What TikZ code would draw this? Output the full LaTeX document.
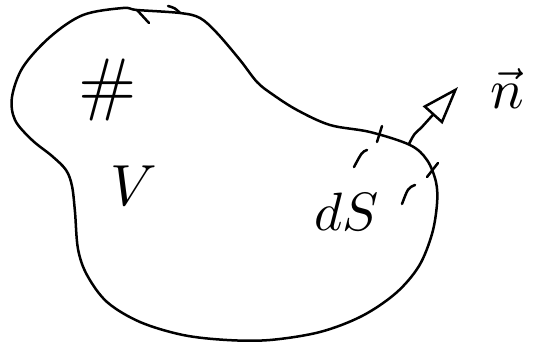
\documentclass[tikz,border=0pt]{standalone}
\usepackage{graphicx}
\usetikzlibrary{arrows.meta}
\begin{document}
\begin{tikzpicture}[x=1pt,y=-1pt,
  ink/.style={line width=2.5pt,line cap=round,line join=round,black},
  lbl/.style={inner sep=0pt,black}]
\useasboundingbox (0,0) rectangle (539,343);
% surface contour
\draw[ink] plot[smooth cycle,tension=0.55] coordinates{
 (137,10) (180,13) (200,18) (217,33) (240,60) (257,82) (272,94) (297,110)
 (330,125) (370,132) (410,145) (427,160) (436,182) (437,204) (432,234)
 (419,266) (396,293) (362,316) (320,332) (270,340) (227,340) (183,335)
 (140,322) (107,302) (87,275) (78,249) (75,212) (72,186) (66,170)
 (52,156) (32,140) (15,120) (12,97) (23,67) (50,37) (83,15) (123,8)};
% orientation mark on top
\coordinate (o1) at (137,10);
\coordinate (o2) at (149,23);
\coordinate (h1) at (168,6);
\coordinate (h2) at (180,13);
\draw[ink] (o1) -- (o2);
\draw[ink] (h1) .. controls (175,8) .. (h2);
% ticks bounding dS
\coordinate (t1a) at (382,126); \coordinate (t1b) at (377,142);
\coordinate (t2a) at (438,163); \coordinate (t2b) at (427,177);
\draw[ink] (t1a) -- (t1b);
\draw[ink] (t2a) -- (t2b);
% dashes inward
\coordinate (d1a) at (367,150); \coordinate (d1b) at (354,167);
\coordinate (d2a) at (415,185); \coordinate (d2b) at (402,204);
\draw[ink] (d1a) .. controls (362,152) .. (d1b);
\draw[ink] (d2a) .. controls (408,188) .. (d2b);
% normal vector
\coordinate (foot) at (409,144);
\coordinate (tip) at (458,87);
\draw[ink,-{Triangle[open,length=38pt,width=26pt,line width=2.5pt]}]
  (foot) .. controls (414,134) .. (421,128) -- (tip);
% labels
\node[lbl] (hash) at (108,90) {\scalebox{7}{\#}};
\node[lbl] (V) at (134,186) {\scalebox{5.8}{$V$}};
\node[lbl] (dS) at (347,212) {\scalebox{5.4}{$dS$}};
\node[lbl] (n) at (507,88) {\scalebox{5.6}{$\vec{n}$}};
\end{tikzpicture}
\end{document}
